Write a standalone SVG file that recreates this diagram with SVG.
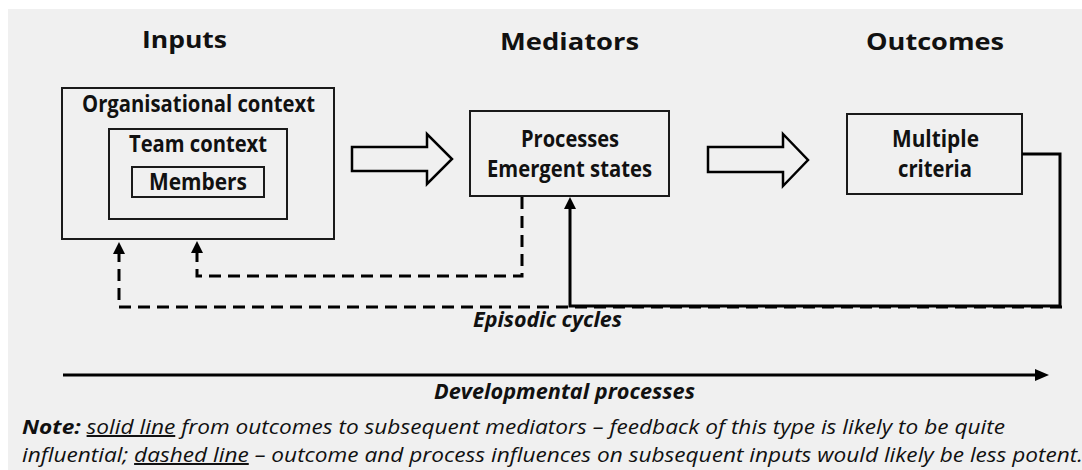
<svg xmlns="http://www.w3.org/2000/svg" width="1082" height="470" viewBox="0 0 1082 470">
  <style>
    .box { fill: none; stroke: #1a1a1a; stroke-width: 2; }
    .block { fill: none; stroke: #000; stroke-width: 2.5; stroke-linejoin: miter; }
    .lbl { font-family: "Open Sans", "Noto Sans", sans-serif; font-weight: bold; font-size: 23px; fill: #111; text-anchor: middle; }
    .head { font-family: "Open Sans", "Noto Sans", sans-serif; font-weight: bold; font-size: 24px; fill: #111; text-anchor: middle; }
    .ital { font-family: "Open Sans", "Noto Sans", sans-serif; font-style: italic; fill: #111; }
    .dash { fill: none; stroke: #000; stroke-width: 3; stroke-dasharray: 12 7; }
    .solid { fill: none; stroke: #000; stroke-width: 3; }
  </style>
  <defs>
    <marker id="tip" viewBox="0 0 12 12" refX="0" refY="6" markerWidth="12" markerHeight="12" markerUnits="userSpaceOnUse" orient="auto">
      <path d="M0,0 L12,6 L0,12 z" fill="#000"/>
    </marker>
    <marker id="tipWide" viewBox="0 0 14 12" refX="0" refY="6" markerWidth="14" markerHeight="12" markerUnits="userSpaceOnUse" orient="auto">
      <path d="M0,0 L14,6 L0,12 z" fill="#000"/>
    </marker>
  </defs>

  <!-- page -->
  <rect x="0" y="0" width="1082" height="470" fill="#ffffff"/>
  <rect x="8" y="9" width="1074" height="461" fill="#f0f0f0"/>

  <!-- column headings -->
  <g id="headings">
    <text class="head" x="184.5" y="48" textLength="85" lengthAdjust="spacingAndGlyphs">Inputs</text>
    <text class="head" x="569.5" y="50" textLength="139" lengthAdjust="spacingAndGlyphs">Mediators</text>
    <text class="head" x="935" y="50" textLength="138" lengthAdjust="spacingAndGlyphs">Outcomes</text>
  </g>

  <!-- inputs: nested contexts -->
  <g id="organisational-context">
    <rect class="box" x="62" y="88" width="272" height="151"/>
    <text class="lbl" x="198.5" y="112" textLength="233" lengthAdjust="spacingAndGlyphs">Organisational context</text>
  </g>
  <g id="team-context">
    <rect class="box" x="109" y="129" width="178" height="90"/>
    <text class="lbl" x="198" y="152" textLength="138" lengthAdjust="spacingAndGlyphs">Team context</text>
  </g>
  <g id="members">
    <rect class="box" x="132" y="167" width="132" height="30"/>
    <text class="lbl" x="198" y="190" textLength="98" lengthAdjust="spacingAndGlyphs">Members</text>
  </g>

  <!-- mediators -->
  <g id="mediators">
    <rect class="box" x="470" y="111" width="199" height="85"/>
    <text class="lbl" x="570" y="147" textLength="98" lengthAdjust="spacingAndGlyphs">Processes</text>
    <text class="lbl" x="569.5" y="177" textLength="165" lengthAdjust="spacingAndGlyphs">Emergent states</text>
  </g>

  <!-- outcomes -->
  <g id="outcomes">
    <rect class="box" x="847" y="114" width="175" height="80"/>
    <text class="lbl" x="935.5" y="147" textLength="87" lengthAdjust="spacingAndGlyphs">Multiple</text>
    <text class="lbl" x="935" y="177" textLength="74" lengthAdjust="spacingAndGlyphs">criteria</text>
  </g>

  <!-- connectors -->
  <g id="connectors">
    <!-- block arrows between stages -->
    <path class="block" d="M352,147 H427 V134 L452,159 L427,184 V171 H352 Z"/>
    <path class="block" d="M708,147 H783 V134 L808,160 L783,186 V172 H708 Z"/>

    <!-- dashed: process influences on team context -->
    <path class="dash" d="M522,197 V276 H197 V253" marker-end="url(#tip)"/>
    <!-- dashed: outcome influences on organisational context -->
    <path class="dash" d="M1062,307 H119 V254" marker-end="url(#tip)"/>
    <!-- solid: outcome feedback to mediators -->
    <path class="solid" d="M1022,154 H1060 V306 H570 V209" marker-end="url(#tip)"/>

    <!-- developmental time axis -->
    <path class="solid" d="M63,375 H1035" marker-end="url(#tipWide)"/>
  </g>

  <!-- axis labels -->
  <g id="labels">
    <text class="ital" x="547.5" y="327" font-size="22" font-weight="bold" text-anchor="middle" textLength="149" lengthAdjust="spacingAndGlyphs">Episodic cycles</text>
    <text class="ital" x="564.5" y="399" font-size="22" font-weight="bold" text-anchor="middle" textLength="261" lengthAdjust="spacingAndGlyphs">Developmental processes</text>
  </g>

  <!-- note -->
  <g id="note">
    <text class="ital" x="22" y="434" font-size="20" textLength="983" lengthAdjust="spacingAndGlyphs"><tspan font-weight="bold">Note:</tspan> <tspan text-decoration="underline">solid line</tspan> from outcomes to subsequent mediators – feedback of this type is likely to be quite</text>
    <text class="ital" x="22" y="462" font-size="20" textLength="1061" lengthAdjust="spacingAndGlyphs">influential; <tspan text-decoration="underline">dashed line</tspan> – outcome and process influences on subsequent inputs would likely be less potent.</text>
  </g>
</svg>
